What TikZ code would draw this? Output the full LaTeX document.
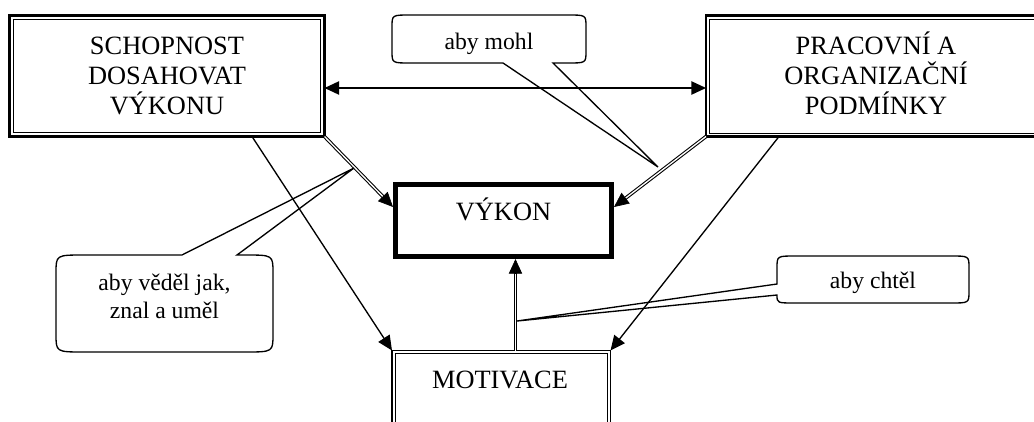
\documentclass[tikz,border=0pt]{standalone}
\usepackage{fontspec}
\setmainfont{Liberation Serif}
\usetikzlibrary{arrows.meta,calc}
\tikzset{
  boxnode/.style={draw, inner sep=0pt, outer sep=0pt},
  dblbox/.style={boxnode, line width=1.7pt},
  innerline/.style={line width=0.75pt},
  thickbox/.style={boxnode, line width=3.75pt},
  maintext/.style={anchor=base, align=center, inner sep=0pt, font=\fontsize{19.8pt}{22.5pt}\selectfont},
  calltext/.style={anchor=base, align=center, inner sep=0pt, font=\fontsize{17.75pt}{21pt}\selectfont},
  callout/.style={line width=1pt, line join=miter},
  tipA/.tip={Triangle[length=11pt,width=10pt]},
  single/.style={line width=1pt, -tipA},
  dbl/.style={double, line width=0.8pt, double distance=1pt, shorten >=10.5pt},
  dbltip/.style={line width=0.5pt, -tipA},
}
\begin{document}
\begin{tikzpicture}[x=0.75pt,y=-0.75pt]
\path[use as bounding box] (0,0) rectangle (1034,421);
\clip (0,0) rectangle (1034,421);

% boxes
\node[dblbox, minimum width=236.25pt, minimum height=90.75pt] (S) at (167,76) {};
\draw[innerline] ([shift={(3.7,3.7)}]S.north west) rectangle ([shift={(-3.7,-3.7)}]S.south east);
\node[dblbox, minimum width=255.75pt, minimum height=90.75pt] (P) at (876.5,76) {};
\draw[innerline] ([shift={(3.5,3.5)}]P.north west) rectangle ([shift={(-3.5,-3.5)}]P.south east);
\node[thickbox, minimum width=162pt, minimum height=54pt] (V) at (503.5,220.5) {};
\node[boxnode, line width=1.3pt, minimum width=163.9pt, minimum height=97.5pt] (M) at (501.25,415.5) {};
\draw[innerline] ([shift={(3.3,3.3)}]M.north west) rectangle ([shift={(-3.3,-3.3)}]M.south east);

% box texts (base = last line)
\node[maintext] (St) at (167,114) {SCHOPNOST\\DOSAHOVAT\\VÝKONU};
\node[maintext] (Pt) at (876,114) {PRACOVNÍ A\\ORGANIZAČNÍ\\PODMÍNKY};
\node[maintext] (Vt) at (503.5,220) {VÝKON};
\node[maintext] (Mt) at (500,388) {MOTIVACE};

% connectors
\coordinate (hy) at (0,88);
\draw[line width=1.1pt, tipA-tipA] (S.east |- hy) -- (P.west |- hy);

\coordinate (vl) at ($(V.north west)+(-2.5,22.5)$);
\coordinate (vr) at ($(V.north east)+(2.5,22.5)$);
\draw[dbl] (S.south east) -- (vl);
\draw[dbltip] ($(vl)!10.5pt!(S.south east)$) -- (vl);
\draw[dbl] (P.south west) -- (vr);
\draw[dbltip] ($(vr)!10.5pt!(P.south west)$) -- (vr);

\coordinate (sb) at ($(S.south west)+(242.5,0)$);
\coordinate (pb) at ($(P.south west)+(73,0)$);
\draw[single] (sb) -- (M.north west);
\draw[single] (pb) -- (M.north east);

\coordinate (mt) at ($(M.north west)+(123.5,0)$);
\coordinate (vb) at ($(mt |- V.south)+(0,2.5)$);
\draw[dbl] (mt) -- (vb);
\draw[dbltip] ($(vb)!10.5pt!(mt)$) -- (vb);

% callouts
\node[calltext] (cm) at (489,49) {aby mohl};
\coordinate (tm) at (658,167);
\draw[callout] (410,15) -- (568,15) .. controls (586,15) .. (586,27) -- (586,51)
  .. controls (586,63) .. (568,63) -- (553,63) -- (tm) -- (503,63) -- (410,63)
  .. controls (392,63) .. (392,51) -- (392,27) .. controls (392,15) .. (410,15) -- cycle;

\node[calltext] (cv) at (164.5,318) {aby věděl jak,\\znal a uměl};
\coordinate (tv) at (354,168);
\draw[callout] (84,255) -- (182,255) -- (tv) -- (237,255) -- (245,255)
  .. controls (273,255) .. (273,273) -- (273,334) .. controls (273,352) .. (245,352)
  -- (84,352) .. controls (56,352) .. (56,334) -- (56,273) .. controls (56,255) .. (84,255) -- cycle;

\node[calltext] (cc) at (873,288) {aby chtěl};
\coordinate (tc) at (517,321);
\draw[callout] (795,256) -- (951,256) .. controls (969,256) .. (969,268) -- (969,291)
  .. controls (969,303) .. (951,303) -- (795,303) .. controls (777,303) .. (777,295)
  -- (tc) -- (777,284) -- (777,268) .. controls (777,256) .. (795,256) -- cycle;
\end{tikzpicture}
\end{document}
